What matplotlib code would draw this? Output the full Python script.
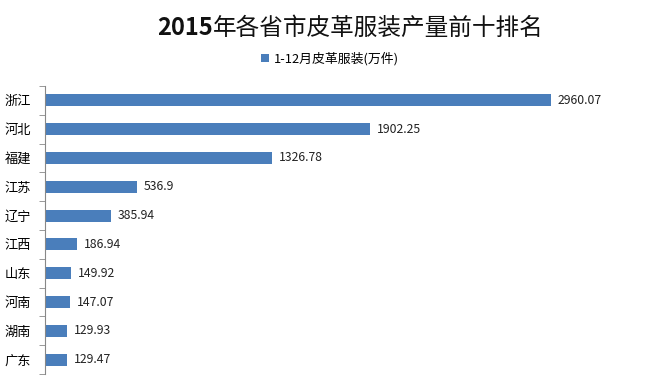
import numpy as np
import matplotlib.pyplot as plt
from matplotlib.ticker import FixedLocator

plt.rcParams['font.family'] = ['Noto Sans CJK SC', 'DejaVu Sans']

# 数据
provinces = ['浙江', '河北', '福建', '江苏', '辽宁', '江西', '山东', '河南', '湖南', '广东']
values = [2960.07, 1902.25, 1326.78, 536.9, 385.94, 186.94, 149.92, 147.07, 129.93, 129.47]
labels = ['2960.07', '1902.25', '1326.78', '536.9', '385.94', '186.94', '149.92', '147.07', '129.93', '129.47']

fig = plt.figure(figsize=(6.57, 3.87), dpi=100)
ax = fig.add_axes([45 / 657, 13 / 387, 598 / 657, 288 / 387])

y = np.arange(len(provinces))
ax.barh(y, values, height=0.42, color='#4A7EBB', label='1-12月皮革服装(万件)')
ax.set_yticks(y)
ax.set_yticklabels(provinces, fontsize=9.5)
ax.set_ylim(len(provinces) - 0.5, -0.5)
ax.set_xlim(0, 3500)

# 数值标签
for i, (v, lab) in enumerate(zip(values, labels)):
    ax.annotate(lab, (v, i), xytext=(5, 0), textcoords='offset points',
                va='center', ha='left', fontsize=8.8, color='#222222')

# 坐标轴样式
for s in ['top', 'right', 'bottom']:
    ax.spines[s].set_visible(False)
ax.spines['left'].set_color('#888888')
ax.xaxis.set_visible(False)
ax.tick_params(axis='y', which='major', length=0, pad=10)
ax.yaxis.set_minor_locator(FixedLocator(np.arange(-0.5, len(provinces), 1)))
ax.tick_params(axis='y', which='minor', length=4, color='#888888')

# 标题: 数字加粗, 汉字常规
t1 = fig.text(157 / 657, 1 - 28 / 387, '2015', ha='left', va='center',
              fontsize=17, fontweight='bold', color='#111111')
fig.canvas.draw()
bb = t1.get_window_extent()
fig.text(bb.x1 / fig.bbox.width, 1 - 28 / 387, '年各省市皮革服装产量前十排名', ha='left',
         va='center', fontsize=17, color='#111111')

fig.legend(loc='center', bbox_to_anchor=(0.502, 1 - 59 / 387), frameon=False, fontsize=9.3,
           handlelength=0.6, handleheight=0.6, handletextpad=0.4)

plt.savefig('out.png', dpi=100)
